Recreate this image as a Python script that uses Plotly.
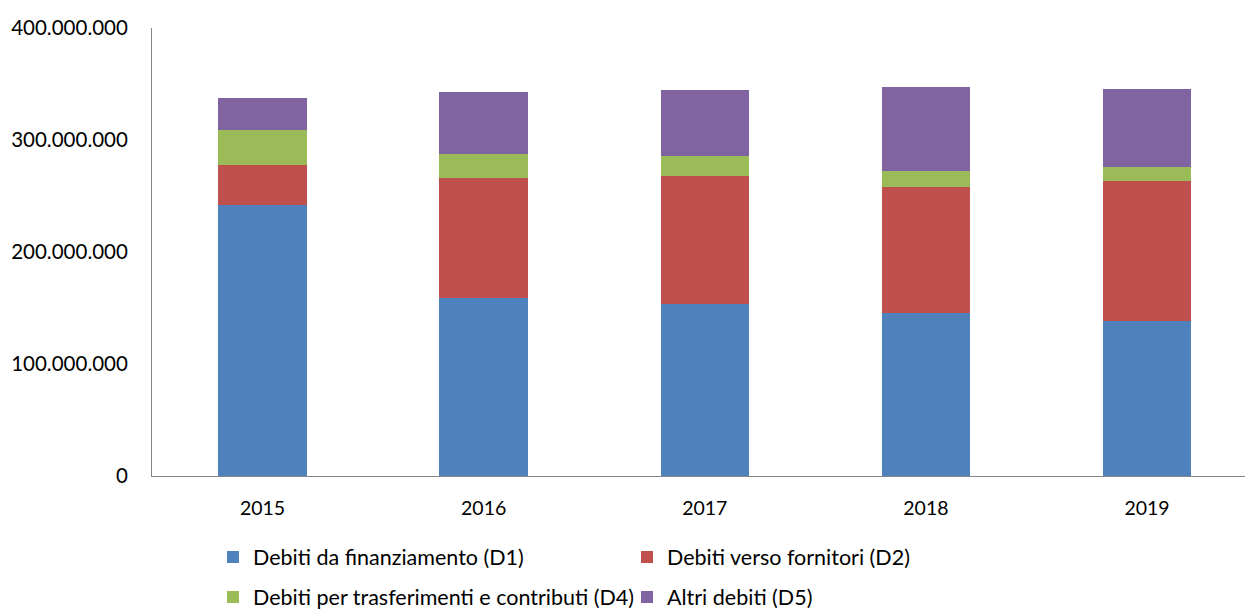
import plotly.graph_objects as go

years = ["2015", "2016", "2017", "2018", "2019"]
d1 = [242.2e6, 159.2e6, 153.6e6, 145.2e6, 138.7e6]
d2 = [35.2e6, 107.1e6, 114.5e6, 113.1e6, 124.9e6]
d4 = [31.5e6, 21.2e6, 17.6e6, 14.0e6, 12.6e6]
d5 = [28.6e6, 55.4e6, 58.7e6, 74.7e6, 69.6e6]
names = ["Debiti da finanziamento (D1)", "Debiti verso fornitori (D2)",
         "Debiti per trasferimenti e contributi (D4)", "Altri debiti (D5)"]
colors = ["#4F81BD", "#C0504D", "#9BBB59", "#8064A2"]
tickvals = [0, 100e6, 200e6, 300e6, 400e6]
ticktext = ["0", "100.000.000", "200.000.000", "300.000.000", "400.000.000"]

FONT = "Lato, 'Open Sans', sans-serif"
fig = go.Figure()
series = [d1, d2, d4, d5]
legends = ["legend", "legend", "legend2", "legend2"]
for s, n, c, lg in zip(series, names, colors, legends):
    fig.add_trace(go.Bar(x=years, y=s, name=n, marker_color=c,
                         marker_line_width=0, width=0.4, legend=lg))

fig.update_layout(
    barmode="stack",
    width=1245, height=610,
    margin=dict(l=152, r=0, t=28, b=134, autoexpand=False),
    plot_bgcolor="white", paper_bgcolor="white",
    font=dict(family=FONT, size=19, color="#000000"),
    xaxis=dict(range=[-0.5, 4.443], showline=True, linecolor="#868686",
               linewidth=1, ticks="", showgrid=False, ticklabelstandoff=15,
               automargin=False, tickfont=dict(size=19.5)),
    yaxis=dict(range=[0, 400e6], tickvals=tickvals, ticktext=ticktext,
               showline=True, linecolor="#868686", linewidth=1,
               showgrid=False, ticks="", ticklabelstandoff=19,
               automargin=False, zeroline=False, tickfont=dict(size=20.5)),
    legend=dict(orientation="h", xref="container", x=213/1245, xanchor="left",
                yref="container", y=1-557/610, yanchor="middle",
                entrywidth=369, entrywidthmode="pixels",
                font=dict(size=21.5), itemclick=False, traceorder="normal"),
    legend2=dict(orientation="h", xref="container", x=213/1245, xanchor="left",
                 yref="container", y=1-597/610, yanchor="middle",
                 entrywidth=369, entrywidthmode="pixels",
                 font=dict(size=21.5), itemclick=False, traceorder="normal"),
    showlegend=True,
)

fig.write_html("out.html", config={"displayModeBar": False},
               post_script="document.body.style.margin='0px';document.body.style.overflow='hidden';")
